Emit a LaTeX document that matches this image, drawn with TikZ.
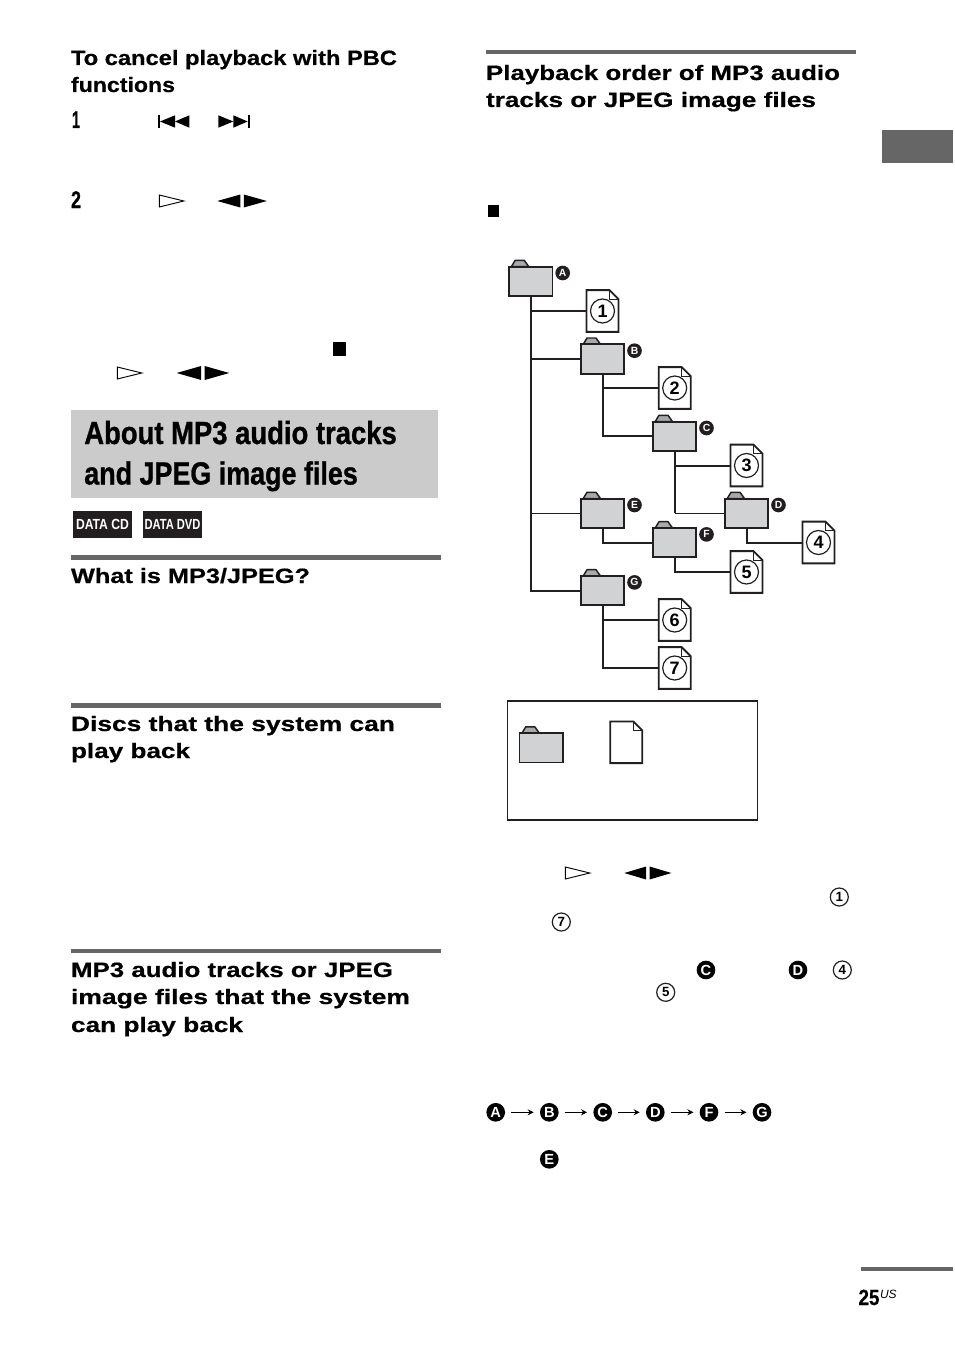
\documentclass[tikz,border=0pt]{standalone}
\usepackage{fontspec}
\usepackage{graphicx}
\setmainfont{Liberation Sans}
\newfontfamily\heavy[FakeBold=0.5]{Liberation Sans Bold}
\newfontfamily\heavier[FakeBold=1.0]{Liberation Sans Bold}
\usetikzlibrary{arrows.meta,calc}
\newdimen\pxu \pxu=0.75pt
\definecolor{ink}{HTML}{231F20}
\definecolor{rulegray}{HTML}{666666}
\definecolor{foldergray}{HTML}{D0D2D3}
\definecolor{tabgray}{HTML}{A7A9AB}
\definecolor{titlegray}{HTML}{CBCBCB}
\tikzset{
  x=0.75pt,y=-0.75pt,
  txt/.style={anchor=base west,inner sep=0pt,outer sep=0pt,text=black},
  headfont/.style={font=\fontsize{15.6pt}{15.6pt}\heavy},
  titlefont/.style={font=\fontsize{24pt}{24pt}\heavier},
  stepfont/.style={font=\fontsize{18pt}{18pt}\heavier},
  pagefont/.style={font=\fontsize{16.5pt}{16.5pt}\heavy},
  rulebar/.style={fill=rulegray,draw=none},
  folderbox/.style={draw=ink,line width=1.4pt,fill=foldergray,rectangle,minimum width=32.7pt,minimum height=22pt,inner sep=0pt,outer sep=0pt},
  foldertab/.style={draw=ink,line width=1.1pt,fill=tabgray,line join=round},
  filebox/.style={rectangle,minimum width=24pt,minimum height=31.3pt,inner sep=0pt,outer sep=0pt},
  fileline/.style={draw=ink,line width=1.4pt,fill=white,line join=miter},
  foldline/.style={draw=ink,line width=0.7pt},
  circnum/.style={circle,draw=ink,line width=0.9pt,minimum size=18pt,inner sep=0pt,font=\fontsize{13.5pt}{13.5pt}\selectfont\bfseries},
  smallcirc/.style={circle,draw=ink,line width=0.9pt,minimum size=13.5pt,inner sep=0pt,font=\fontsize{10pt}{10pt}\selectfont\bfseries},
  tagdot/.style={circle,fill=ink,text=white,minimum size=11pt,inner sep=0pt,font=\fontsize{7.8pt}{7.8pt}\selectfont\bfseries},
  bigdot/.style={circle,fill=black,text=white,minimum size=14pt,inner sep=0pt,font=\fontsize{11pt}{11pt}\selectfont\bfseries},
  link/.style={draw=ink,line width=1.5pt},
  thinlink/.style={draw=ink,line width=0.75pt},
  seq/.style={draw=black,line width=0.8pt,shorten >=4.5pt,shorten <=4.5pt,-{Stealth[length=4.5pt,width=4.5pt]}},
  solid tri/.style={fill=black,draw=none},
  hollow tri/.style={draw=black,line width=0.7pt,fill=white},
  discbadge/.style={rectangle,fill=ink,text=white,minimum width=44.3pt,minimum height=20pt,inner sep=0pt,font=\fontsize{11pt}{11pt}\selectfont\bfseries}
}
\newcommand\folder[3]{%
  \draw[foldertab] ($(#2)+(-19.3,-14.7)$) -- ($(#2)+(-15.5,-21)$) -- ($(#2)+(-6.5,-21)$) -- ($(#2)+(-2,-14.7)$) -- cycle;
  \node[folderbox] (#1) at (#2) {};
  \node[tagdot] (#1tag) at ($(#2)+(32,-8.3)$) {#3};
}
\newcommand\legendfolder[2]{%
  \draw[foldertab] ($(#2)+(-19.3,-14.7)$) -- ($(#2)+(-15.5,-21)$) -- ($(#2)+(-6.5,-21)$) -- ($(#2)+(-2,-14.7)$) -- cycle;
  \node[folderbox] (#1) at (#2) {};
}
\newcommand\fileicon[2]{%
  \node[filebox] (#1) at (#2) {};
  \draw[fileline] (#1.north west) -- ($(#1.north east)+(-9,0)$) -- ($(#1.north east)+(0,9)$) -- (#1.south east) -- (#1.south west) -- cycle;
  \draw[foldline] ($(#1.north east)+(-9,0)$) -- ($(#1.north east)+(-9,9)$) -- ($(#1.north east)+(0,9)$);
}
\newcommand\filenum[3]{\fileicon{#1}{#2}\node[circnum] (#1num) at (#1) {#3};}
\newcommand\txtline[5]{\node[txt,#1] (#2) at (#3) {\resizebox{#4\pxu}{\height}{#5}};}
% coordinate, width of one triangle, half height
\newcommand\playpair[3]{%
  \fill[solid tri] (#1) -- ($(#1)+(#2,-#3)$) -- ($(#1)+(#2,#3)$) -- cycle;
  \fill[solid tri] ($(#1)+(#2+3.5,-#3)$) -- ($(#1)+(#2+3.5,#3)$) -- ($(#1)+(2*#2+3.5,0)$) -- cycle;
}
\newcommand\playhollow[1]{\draw[hollow tri] ($(#1)+(0,-6)$) -- ($(#1)+(24.5,0)$) -- ($(#1)+(0,6)$) -- cycle;}
\begin{document}
\begin{tikzpicture}
\useasboundingbox (0,0) rectangle (954,1352);
\fill[white] (0,0) rectangle (954,1352);
% rules
\fill[rulebar] (71,555) rectangle (441,559.5);
\fill[rulebar] (71,703) rectangle (441,707.5);
\fill[rulebar] (71,949) rectangle (441,953);
\fill[rulebar] (486,50) rectangle (856,54.5);
\fill[rulebar] (861,1267) rectangle (953,1270.5);
\fill[rulebar] (882,130) rectangle (953,163);
\fill[titlegray] (71,410) rectangle (438,498);
% headings
\txtline{headfont}{h1a}{71,65}{326}{To cancel playback with PBC}
\txtline{headfont}{h1b}{71,92}{104}{functions}
\txtline{headfont}{h2}{71,583}{239}{What is MP3/JPEG?}
\txtline{headfont}{h3a}{71,731}{324}{Discs that the system can}
\txtline{headfont}{h3b}{71,758}{119}{play back}
\txtline{headfont}{h4a}{71,977}{322}{MP3 audio tracks or JPEG}
\txtline{headfont}{h4b}{71,1004}{339}{image files that the system}
\txtline{headfont}{h4c}{71,1032}{172}{can play back}
\txtline{headfont}{h5a}{486,80}{354}{Playback order of MP3 audio}
\txtline{headfont}{h5b}{486,107}{330}{tracks or JPEG image files}
\txtline{titlefont}{t1}{84.3,444}{312.5}{About MP3 audio tracks}
\txtline{titlefont}{t2}{84.3,484.5}{273.5}{and JPEG image files}
\txtline{stepfont}{s1}{72,128}{8}{1}
\txtline{stepfont}{s2}{71,208}{10}{2}
\txtline{pagefont}{pg}{858.5,1305}{21}{25}
\node[txt,font=\fontsize{9pt}{9pt}\selectfont\itshape] (pgus) at (880,1298) {US};
% disc badges
\node[discbadge] (cdb) at (102.5,524.5) {\resizebox{53\pxu}{\height}{DATA CD}};
\node[discbadge] (dvdb) at (172.5,524.5) {\resizebox{56\pxu}{\height}{DATA DVD}};
% transport symbols
\fill[solid tri] (157.7,115.3) rectangle (160,127.7);
\fill[solid tri] (160,121.5) -- (175,115.3) -- (175,127.7) -- cycle;
\fill[solid tri] (175,121.5) -- (189.3,115.3) -- (189.3,127.7) -- cycle;
\fill[solid tri] (218.3,115.3) -- (233.3,121.5) -- (218.3,127.7) -- cycle;
\fill[solid tri] (233.3,115.3) -- (247.7,121.5) -- (233.3,127.7) -- cycle;
\fill[solid tri] (247.7,115.3) rectangle (250,127.7);
\coordinate (pa) at (159.3,201); \playhollow{pa}
\coordinate (pb) at (217.3,201); \playpair{pb}{23}{6.5}
\coordinate (pc) at (117.3,373); \playhollow{pc}
\coordinate (pd) at (176.7,373); \playpair{pd}{24.5}{7}
\coordinate (pe) at (565.3,873); \playhollow{pe}
\coordinate (pf) at (624.3,873); \playpair{pf}{21.8}{6.5}
\fill[black] (332.5,342) rectangle (346.3,356);
\fill[black] (487.5,205) rectangle (499,217);
% tree nodes
\folder{fa}{530.7,281.3}{A}
\folder{fb}{602.5,359}{B}
\folder{fc}{674.5,436.3}{C}
\folder{fe}{602.5,513.3}{E}
\folder{fd}{746.5,513.3}{D}
\folder{ff}{674.5,542.7}{F}
\folder{fg}{602.5,590.7}{G}
\filenum{d1}{602.5,311}{1}
\filenum{d2}{674.7,388}{2}
\filenum{d3}{746.5,465.5}{3}
\filenum{d4}{818.5,542.5}{4}
\filenum{d5}{746.5,572}{5}
\filenum{d6}{674.7,620}{6}
\filenum{d7}{674.7,668}{7}
% connectors
\draw[link] (fa.south) |- (fg.west);
\draw[link] (fa.south) |- (d1.west);
\draw[link] (fa.south) |- (fb.west);
\draw[thinlink] (fa.south |- fe.west) -- (fe.west);
\draw[link] (fb.south) |- (fc.west);
\draw[link] (fb.south) |- (d2.west);
\draw[link] (fc.south) |- (d3.west);
\draw[link] (fc.south) -- (fc.south |- fd.west);
\draw[thinlink] (fc.south |- fd.west) -- (fd.west);
\draw[link] (fd.south) |- (d4.west);
\draw[link] (fe.south) |- (ff.west);
\draw[link] (ff.south) |- (d5.west);
\draw[link] (fg.south) |- (d6.west);
\draw[link] (fg.south) |- (d7.west);
% legend
\node[draw=ink,line width=1.1pt,rectangle,minimum width=187.5pt,minimum height=89.5pt,inner sep=0pt] (legend) at (632.5,760.5) {};
\legendfolder{lf}{541.3,747.8}
\fileicon{lfile}{626.3,742.3}
% inline references
\node[smallcirc] (i1) at (839.3,897) {1};
\node[smallcirc] (i7) at (561.3,922) {7};
\node[bigdot] (ic) at (706,970) {C};
\node[bigdot] (id) at (798,970) {D};
\node[smallcirc] (i4) at (842.3,970) {4};
\node[smallcirc] (i5) at (665.7,992.3) {5};
% order line
\node[bigdot] (oa) at (495.7,1112.3) {A};
\node[bigdot] (ob) at (549.3,1112.3) {B};
\node[bigdot] (oc) at (602.7,1112.3) {C};
\node[bigdot] (od) at (655.3,1112.3) {D};
\node[bigdot] (of) at (709,1112.3) {F};
\node[bigdot] (og) at (762,1112.3) {G};
\node[bigdot] (oe) at (549.3,1159.3) {E};
\draw[seq] (oa) -- (ob);
\draw[seq] (ob) -- (oc);
\draw[seq] (oc) -- (od);
\draw[seq] (od) -- (of);
\draw[seq] (of) -- (og);
\end{tikzpicture}
\end{document}
